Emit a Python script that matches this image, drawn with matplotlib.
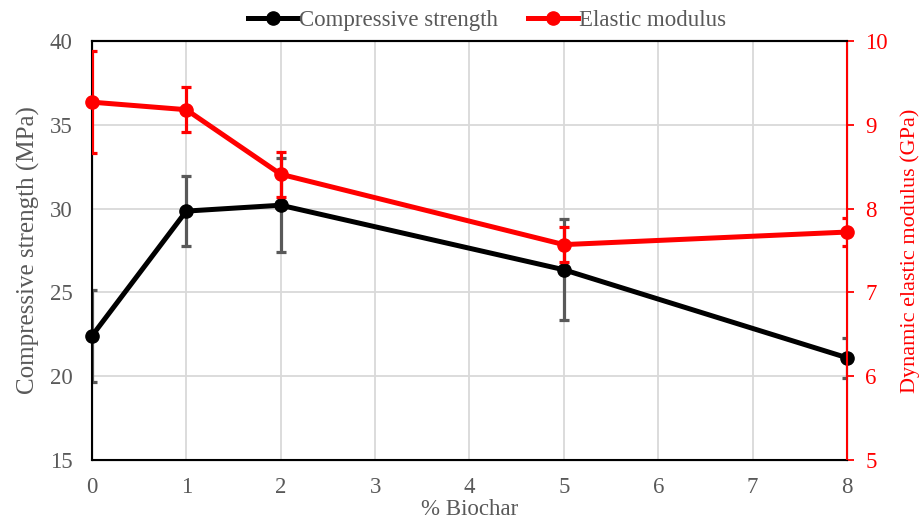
import matplotlib
matplotlib.use("Agg")
import matplotlib.pyplot as plt
from matplotlib.lines import Line2D

plt.rcParams['font.family'] = ['Liberation Serif', 'DejaVu Serif']

biochar = [0, 1, 2, 5, 8]
strength = [22.4, 29.85, 30.2, 26.35, 21.1]
strength_err = [2.75, 2.1, 2.8, 3.0, 1.2]
modulus = [9.27, 9.18, 8.41, 7.57, 7.72]
modulus_err = [0.61, 0.27, 0.27, 0.21, 0.17]

grey = '#595959'
red = '#ff0000'

fig = plt.figure(figsize=(9.19, 5.2), dpi=100)
ax = fig.add_axes([0.100, 0.1154, 0.8217, 0.8058])
ax2 = ax.twinx()

eb1 = ax.errorbar(biochar, strength, yerr=strength_err, color='black', lw=3.6,
                  marker='o', ms=9.5, ecolor=grey, elinewidth=2.3, capsize=3.8,
                  capthick=2.3, zorder=3)
eb2 = ax2.errorbar(biochar, modulus, yerr=modulus_err, color=red, lw=3.6,
                   marker='o', ms=9.5, ecolor=red, elinewidth=2.3, capsize=3.8,
                   capthick=2.3, zorder=3)
eb1[0].set_clip_on(False)
eb2[0].set_clip_on(False)

ax.set_xlim(0, 8)
ax.set_ylim(15, 40)
ax2.set_ylim(5, 10)
ax.set_xticks(range(0, 9))
ax.set_yticks(range(15, 41, 5))
ax2.set_yticks(range(5, 11))

ax.grid(True, color='#d9d9d9', lw=1.3)
ax.set_axisbelow(True)

ax.tick_params(axis='y', length=0, labelsize=16.5, labelcolor=grey, pad=14)
ax.tick_params(axis='x', length=0, labelsize=16.5, labelcolor=grey, pad=12)
ax2.tick_params(axis='y', length=5, width=1.3, color=red,
                labelsize=16.5, labelcolor=red, pad=8)

for s in ['left', 'bottom', 'top']:
    ax.spines[s].set_color('black')
    ax.spines[s].set_linewidth(1.5)
ax2.spines['right'].set_color(red)
ax2.spines['right'].set_linewidth(1.5)
ax2.spines['top'].set_linewidth(1.5)

ax.set_xlabel('% Biochar', fontsize=16.5, color=grey, labelpad=1)
ax.set_ylabel('Compressive strength (MPa)', fontsize=18, color=grey, labelpad=7)
ax2.set_ylabel('Dynamic elastic modulus (GPa)', fontsize=16, color=red,
               labelpad=9)

handles = [Line2D([], [], color='black', lw=3.6, marker='o', ms=9.5),
           Line2D([], [], color=red, lw=3.6, marker='o', ms=9.5)]
leg = fig.legend(handles, ['Compressive strength', 'Elastic modulus'],
                 loc='upper center', bbox_to_anchor=(0.53, 1.02), ncol=2,
                 frameon=False, fontsize=16.5, handlelength=2.2,
                 handletextpad=0.05, columnspacing=1.3)
for t in leg.get_texts():
    t.set_color(grey)

fig.savefig('out.png', dpi=100)
